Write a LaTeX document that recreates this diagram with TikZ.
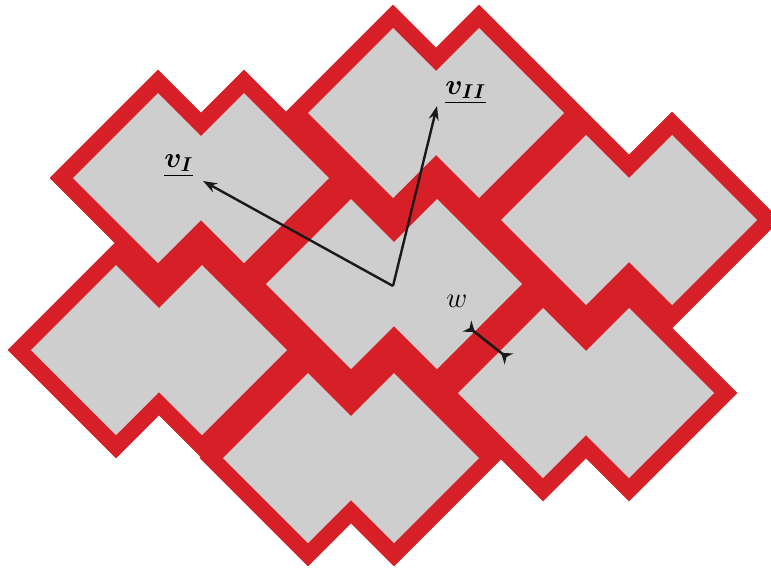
\documentclass[tikz,border=0pt]{standalone}
\usepackage{amsmath}
\usepackage{bm}
\usetikzlibrary{arrows.meta}
\definecolor{tilered}{RGB}{214,31,38}
\definecolor{tilegray}{RGB}{206,206,206}
% double-diamond tile: left diamond centre (#1,#2), half diagonal #3, offset 86
\newcommand\dtile[3]{({#1-#3},{#2}) -- ({#1},{#2-#3}) -- ({#1+43},{#2-#3+43}) -- ({#1+86},{#2-#3}) -- ({#1+86+#3},{#2}) -- ({#1+86},{#2+#3}) -- ({#1+43},{#2+#3-43}) -- ({#1},{#2+#3}) -- cycle}
\tikzset{
  redborder/.style={fill=tilered, draw=tilered, line width=1pt, line join=miter},
  redcore/.style={fill=tilered},
  graytile/.style={fill=tilegray},
  vecarrow/.style={line width=1.2pt, black!90, -{Stealth[length=7pt,width=5pt]}},
  wmark/.style={line width=1.3pt, black!90, {Stealth[reversed,length=5pt,width=7pt]}-{Stealth[reversed,length=5pt,width=7pt]}},
  lab/.style={inner sep=0pt, font=\fontsize{14.5}{17}\selectfont}
}
\begin{document}
\begin{tikzpicture}[x=0.5pt,y=-0.5pt]
\useasboundingbox (0,0) rectangle (771,568);
% red borders
\foreach \cx/\cy in {158/178, 393/113, 586/220, 351/284, 116/350, 308/458, 543/393}{
  \path[redborder] \dtile{\cx}{\cy}{107};
}
% red core between the tiles (closes seams)
\path[redcore] (158,178) -- (244,178) -- (393,113) -- (479,113) -- (586,220) -- (543,393)
  -- (394,458) -- (308,458) -- (202,350) -- cycle;
% gray tiles
\foreach \cx/\cy in {158/178, 393/113, 586/220, 351/284, 116/350, 308/458, 543/393}{
  \path[graytile] \dtile{\cx}{\cy}{85};
}
% vectors
\coordinate (O) at (393,286);
\coordinate (tI) at (203,181);
\coordinate (tII) at (437,106);
\draw[vecarrow] (O) -- (tI);
\draw[vecarrow] (O) -- (tII);
\node[lab, anchor=base west] (lI) at (164,167) {$\underline{\bm{v_I}}$};
\node[lab, anchor=base west] (lII) at (445,94) {$\underline{\bm{v_{II}}}$};
% width marker
\coordinate (w1) at (467,326);
\coordinate (w2) at (509,359);
\draw[wmark] (w1) -- (w2);
\node[lab, anchor=base west] (lw) at (446,307) {$w$};
\end{tikzpicture}
\end{document}
